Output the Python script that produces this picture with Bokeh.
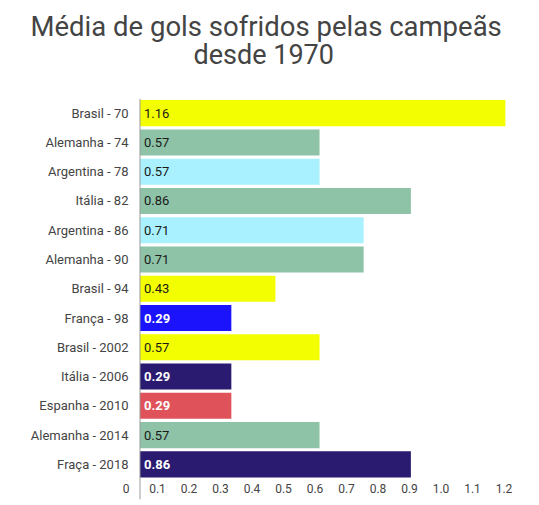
from bokeh.plotting import figure
from bokeh.models import Range1d, LinearAxis, FixedTicker, Title, ColumnDataSource, Span
from bokeh.core.properties import value
from bokeh.embed import file_html
from bokeh.resources import INLINE

categories = ["Brasil - 70", "Alemanha - 74", "Argentina - 78", "Itália - 82",
              "Argentina - 86", "Alemanha - 90", "Brasil - 94", "França - 98",
              "Brasil - 2002", "Itália - 2006", "Espanha - 2010", "Alemanha - 2014",
              "Fraça - 2018"]
values = [1.16, 0.57, 0.57, 0.86, 0.71, 0.71, 0.43, 0.29, 0.57, 0.29, 0.29, 0.57, 0.86]
bar_colors = ["#f3ff00", "#8ec3a7", "#a9f1fe", "#8ec3a7", "#a9f1fe", "#8ec3a7", "#f3ff00",
              "#1b13fb", "#f3ff00", "#2a1a70", "#e0525a", "#8ec3a7", "#2a1a70"]
label_colors = ["#1a1a1a", "#1a1a1a", "#1a1a1a", "#1a1a1a", "#1a1a1a", "#1a1a1a", "#1a1a1a",
                "#ffffff", "#1a1a1a", "#ffffff", "#ffffff", "#1a1a1a", "#ffffff"]
label_styles = ["normal", "normal", "normal", "normal", "normal", "normal", "normal",
                "bold", "normal", "bold", "bold", "normal", "bold"]
x_ticks = [0, 0.1, 0.2, 0.3, 0.4, 0.5, 0.6, 0.7, 0.8, 0.9, 1.0, 1.1, 1.2]
x_tick_labels = ["0", "0.1", "0.2", "0.3", "0.4", "0.5", "0.6", "0.7", "0.8", "0.9", "1.0", "1.1", "1.2"]

pos = list(range(len(categories)))
src = ColumnDataSource(dict(y=pos, v=values, color=bar_colors,
                            txt=[f"{v:.2f}" for v in values],
                            tcolor=label_colors, tstyle=label_styles))

X0 = -0.046
X1 = X0 + 405 / 315
SHIFT = 0.0444

p = figure(width=539, height=505, output_backend="svg", toolbar_location=None,
           x_range=Range1d(X0, X1), y_range=Range1d(13.2, -0.5),
           x_axis_location=None, min_border_left=125, min_border_right=9,
           min_border_bottom=6, min_border_top=98)
p.outline_line_color = None
p.xgrid.visible = False
p.ygrid.visible = False

p.hbar(y="y", left=0, right="v", height=0.89, color="color", source=src, line_color=None)
p.text(x=0, y="y", text="txt", x_offset=4, source=src, text_color="tcolor",
       text_font_style="tstyle", text_font=value("Roboto"), text_font_size="13px",
       text_align="left", text_baseline="middle")
p.add_layout(Span(location=0, dimension="height", line_color="#9a9a9a", line_width=1))

ya = p.yaxis[0]
ya.ticker = FixedTicker(ticks=pos)
ya.major_label_overrides = {i: c for i, c in zip(pos, categories)}
ya.major_tick_line_color = None
ya.major_tick_out = 0
ya.major_tick_in = 0
ya.minor_tick_line_color = None
ya.axis_line_color = None
ya.major_label_standoff = -3
ya.major_label_text_font = "Roboto"
ya.major_label_text_font_size = "13px"
ya.major_label_text_color = "#444444"

p.extra_x_ranges = {"lbl": Range1d(X0 + SHIFT, X1 + SHIFT)}
xa = LinearAxis(x_range_name="lbl", ticker=FixedTicker(ticks=x_ticks))
xa.major_label_overrides = {t: s for t, s in zip(x_ticks, x_tick_labels)}
xa.axis_line_color = None
xa.major_tick_line_color = None
xa.major_tick_out = 0
xa.major_tick_in = 0
xa.minor_tick_line_color = None
xa.major_label_standoff = -16
xa.major_label_text_font = "Roboto"
xa.major_label_text_font_size = "12px"
xa.major_label_text_color = "#444444"
p.add_layout(xa, "below")

spacer = Title(text=" ", text_font_size="10px", standoff=15)
t2 = Title(text="desde 1970", align="left", offset=68, text_font="Roboto",
           text_font_size="27px", text_font_style="normal", text_color="#444444",
           standoff=0)
t1 = Title(text="Média de gols sofridos pelas campeãs", align="left", offset=-95,
           text_font="Roboto", text_font_size="27.5px", text_font_style="normal",
           text_color="#444444", standoff=-12)
p.add_layout(spacer, "above")
p.add_layout(t2, "above")
p.add_layout(t1, "above")

open("out.html", "w").write(file_html(p, INLINE))
